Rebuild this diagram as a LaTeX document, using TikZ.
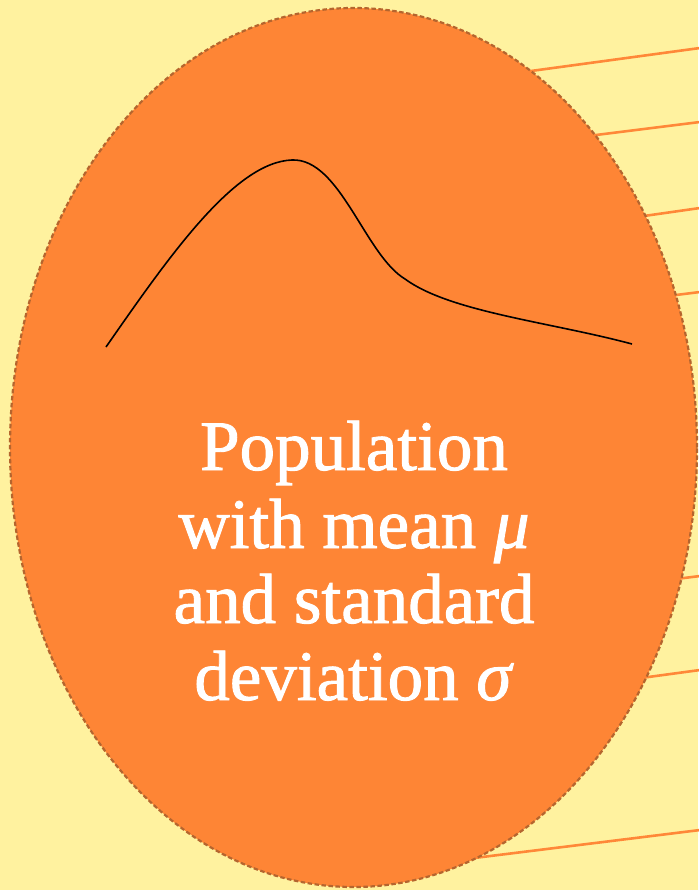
\documentclass[tikz,border=0pt]{standalone}
\usepackage{fontspec}
\setmainfont{Liberation Serif}
\newfontfamily\labelfont[FakeBold=1.3]{Liberation Serif}
\usetikzlibrary{shapes.geometric}
\definecolor{bgyellow}{HTML}{FFF29F}
\definecolor{popfill}{HTML}{FE8535}
\definecolor{popedge}{HTML}{B5652E}
\definecolor{rayorange}{HTML}{FF8838}
\tikzset{
  ray/.style={draw=rayorange, line width=2.6pt},
  popshape/.style={ellipse, draw=popedge, fill=popfill, line width=2.2pt,
    dash pattern=on 4.5pt off 2.5pt, minimum width=687pt, minimum height=879pt, inner sep=0pt},
  poptext/.style={text=white, align=center, font=\labelfont\fontsize{71}{77}\selectfont},
  curveline/.style={draw=black, line width=1.6pt}
}
\begin{document}
\begin{tikzpicture}[x=1pt,y=-1pt]
\fill[bgyellow] (0,0) rectangle (698,890);
\useasboundingbox (0,0) rectangle (698,890);
% rays
\coordinate (r1a) at (700,48);  \coordinate (r1b) at (520,72.5);
\coordinate (r2a) at (700,122); \coordinate (r2b) at (580,137);
\coordinate (r3a) at (700,208); \coordinate (r3b) at (630,218);
\coordinate (r4a) at (700,292); \coordinate (r4b) at (660,297);
\coordinate (r5a) at (700,576); \coordinate (r5b) at (660,581);
\coordinate (r6a) at (700,670); \coordinate (r6b) at (630,679.5);
\coordinate (r7a) at (700,830); \coordinate (r7b) at (450,861);
\foreach \i in {1,...,7} { \draw[ray] (r\i a) -- (r\i b); }
% population ellipse
\node[popshape] (pop) at (353.5,447.5) {};
% skewed curve
\coordinate (c0) at (106,347);
\coordinate (cpk) at (292,160);
\coordinate (cm) at (405,279);
\coordinate (c1) at (632,344);
\draw[curveline] (c0) .. controls (170,255) and (235,162) .. (cpk)
  .. controls (340,158) and (365,255) .. (cm)
  .. controls (450,312) and (550,322) .. (c1);
% label
\node[poptext, anchor=base] (lbl) at (354,470) {Population};
\node[poptext, anchor=base] (lbl2) at (354,548) {with mean \textit{μ}};
\node[poptext, anchor=base] (lbl3) at (354,623) {and standard};
\node[poptext, anchor=base] (lbl4) at (354,700) {deviation \textit{σ}};
\end{tikzpicture}
\end{document}
